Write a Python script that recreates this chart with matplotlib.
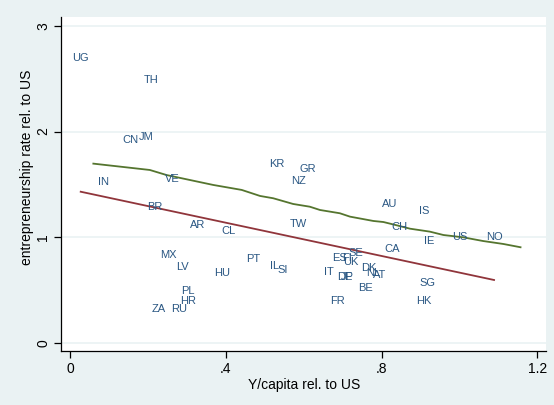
import numpy as np
import matplotlib
matplotlib.use('Agg')
import matplotlib.pyplot as plt

plt.rcParams['font.family'] = ['Liberation Sans', 'DejaVu Sans']

# country codes and their (income, entrepreneurship) relative to the US
codes = ['UG', 'TH', 'CN', 'JM', 'IN', 'VE', 'BR', 'AR', 'CL', 'MX', 'LV',
         'HU', 'PT', 'PL', 'HR', 'ZA', 'RU', 'KR', 'GR', 'NZ', 'TW', 'IL',
         'SI', 'AU', 'IS', 'CH', 'IE', 'US', 'NO', 'CA', 'SE', 'ES', 'FI',
         'UK', 'IT', 'DE', 'JP', 'DK', 'NL', 'AT', 'BE', 'FR', 'SG', 'HK']
ypc = [0.028, 0.208, 0.154, 0.195, 0.085, 0.262, 0.218, 0.329, 0.408, 0.252,
       0.290, 0.390, 0.470, 0.303, 0.303, 0.229, 0.280, 0.532, 0.611, 0.588,
       0.586, 0.526, 0.547, 0.822, 0.909, 0.845, 0.922, 1.000, 1.089, 0.827,
       0.734, 0.693, 0.712, 0.722, 0.665, 0.706, 0.712, 0.768, 0.778, 0.796,
       0.760, 0.686, 0.919, 0.909]
entr = [2.697, 2.488, 1.920, 1.948, 1.522, 1.551, 1.285, 1.115, 1.058, 0.831,
        0.717, 0.660, 0.793, 0.490, 0.395, 0.319, 0.319, 1.693, 1.645, 1.532,
        1.124, 0.727, 0.689, 1.314, 1.248, 1.096, 0.963, 1.000, 1.001, 0.888,
        0.850, 0.803, 0.803, 0.764, 0.670, 0.622, 0.622, 0.708, 0.660, 0.641,
        0.518, 0.395, 0.566, 0.395]

# linear fit (endpoints)
fit_x = [0.0275, 1.089]
fit_y = [1.430, 0.594]

# model prediction
model_x = [0.060, 0.205, 0.248, 0.368, 0.441, 0.488, 0.522, 0.573, 0.616,
           0.642, 0.693, 0.719, 0.779, 0.805, 0.839, 0.873, 0.924, 0.959,
           1.010, 1.061, 1.113, 1.157]
model_y = [1.696, 1.636, 1.588, 1.494, 1.447, 1.390, 1.368, 1.314, 1.288,
           1.257, 1.226, 1.194, 1.153, 1.143, 1.112, 1.080, 1.052, 1.020,
           0.998, 0.963, 0.935, 0.904]

xticks = [0, 0.4, 0.8, 1.2]
xticklabels = ['0', '.4', '.8', '1.2']
yticks = [0, 1, 2, 3]

bg = '#EAF2F3'
fig = plt.figure(figsize=(5.54, 4.05), dpi=100, facecolor=bg)
ax = fig.add_axes([61.3/554, 1-351/405, (546-61.3)/554, (351-17.3)/405])
ax.set_facecolor('white')

for yv in yticks:
    ax.axhline(yv, color=bg, lw=1.2, zorder=0)

ax.plot(fit_x, fit_y, color='#90353B', lw=1.3, zorder=2)
ax.plot(model_x, model_y, color='#55752F', lw=1.3, zorder=2)

for c, x, y in zip(codes, ypc, entr):
    ax.text(x, y, c, color='#2A5783', fontsize=8, ha='center', va='center',
            zorder=3)

ax.set_xlim(-0.0223, 1.2224)
ax.set_ylim(-0.0786, 3.082)
ax.set_xticks(xticks)
ax.set_xticklabels(xticklabels)
ax.set_yticks(yticks)
ax.set_yticklabels([str(v) for v in yticks], rotation=90, va='center')
ax.tick_params(direction='out', length=5, width=0.9, labelsize=10, pad=3)

for s in ['top', 'right']:
    ax.spines[s].set_visible(False)
for s in ['left', 'bottom']:
    ax.spines[s].set_linewidth(0.9)

ax.set_xlabel('Y/capita rel. to US', fontsize=10, labelpad=1)
ax.set_ylabel('entrepreneurship rate rel. to US', fontsize=10)
ax.yaxis.set_label_coords(-0.056, 0.55)

fig.savefig('out.png', dpi=100, facecolor=bg)
